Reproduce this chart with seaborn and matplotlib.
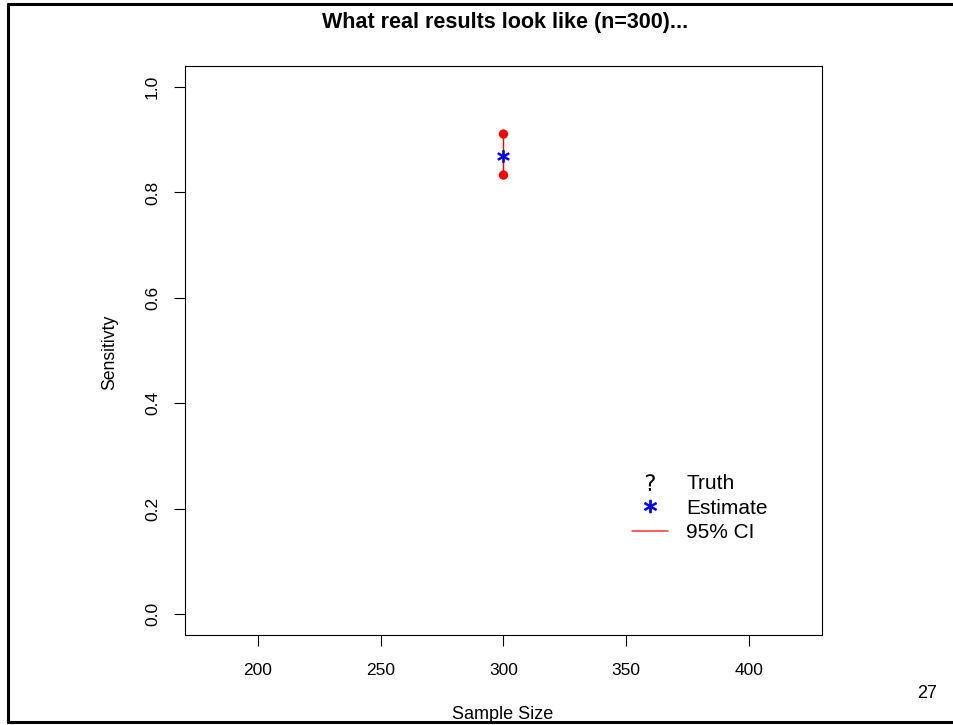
import matplotlib
matplotlib.use('Agg')
import matplotlib.pyplot as plt
from matplotlib.lines import Line2D
import seaborn as sns
import pandas as pd

# data
sample_size = [300]
estimate = [0.869]
ci_lower = [0.833]
ci_upper = [0.911]
x_ticks = [200, 250, 300, 350, 400]
y_ticks = [0.0, 0.2, 0.4, 0.6, 0.8, 1.0]
legend_labels = ['Truth', 'Estimate', '95% CI']

sns.set_style('white')
plt.rcParams['font.family'] = ['Liberation Sans', 'DejaVu Sans']
plt.rcParams['text.color'] = 'black'

df = pd.DataFrame({'n': sample_size, 'est': estimate, 'lo': ci_lower, 'hi': ci_upper})
ci = pd.DataFrame({'n': sample_size * 2, 'val': ci_lower + ci_upper})

fig = plt.figure(figsize=(9.54, 7.25), dpi=100)
ax = fig.add_axes([0.1939, 0.1241, 0.6677, 0.7848])

# CI segment and end points
for _, r in df.iterrows():
    ax.plot([r.n, r.n], [r.lo, r.hi], color='red', lw=1, zorder=1)
sns.scatterplot(data=ci, x='n', y='val', color='red', s=45, edgecolor='none', ax=ax, zorder=2)
sns.scatterplot(data=df, x='n', y='est', color='blue', marker='$*$', s=70, linewidth=0.8,
                edgecolor='blue', ax=ax, zorder=3)

ax.set_xlim(170.4, 429.6)
ax.set_ylim(-0.04, 1.04)
ax.set_xticks(x_ticks)
ax.set_yticks(y_ticks)
ax.set_xticklabels([str(t) for t in x_ticks], fontsize=12.5, color='black')
ax.set_yticklabels(['%.1f' % t for t in y_ticks], fontsize=12.5, rotation=90, va='center',
                   color='black')
ax.tick_params(axis='both', direction='out', length=8, width=0.8, colors='black',
               bottom=True, left=True)
ax.tick_params(axis='x', pad=12)
ax.tick_params(axis='y', pad=10)
for s in ax.spines.values():
    s.set_color('black')
    s.set_linewidth(0.8)
ax.set_xlabel('')
ax.set_ylabel('')

fig.text(0.5293, 0.969, 'What real results look like (n=300)...', ha='center', va='center',
         fontsize=15.5, fontweight='bold')
fig.text(0.1153, 0.5145, 'Sensitivty', rotation=90, ha='center', va='center', fontsize=12.7)
fig.text(0.5273, 0.015, 'Sample Size', ha='center', va='center', fontsize=13)
fig.text(0.9717, 0.044, '27', ha='center', va='center', fontsize=13)

handles = [
    Line2D([], [], color='black', marker='$?$', ls='none', markersize=12, markeredgewidth=0),
    Line2D([], [], color='blue', marker='$*$', ls='none', markersize=9, markeredgewidth=0.8),
    Line2D([], [], color='#ff3030', lw=1.1),
]
ax.legend(handles, legend_labels, loc='upper left', bbox_to_anchor=(0.702, 0.283),
          frameon=False, fontsize=15, handlelength=1.73, handletextpad=0.87,
          labelspacing=0.27, borderaxespad=0, borderpad=0)

# slide frame
fig.add_artist(Line2D([0.008, 1.0], [0.9945, 0.9945], transform=fig.transFigure, color='black', lw=2.2))
fig.add_artist(Line2D([0.0084, 0.0084], [0.0045, 0.9945], transform=fig.transFigure, color='black', lw=2.2))
fig.add_artist(Line2D([0.008, 1.0], [0.0045, 0.0045], transform=fig.transFigure, color='black', lw=2.2))

fig.savefig('out.png', dpi=100)
